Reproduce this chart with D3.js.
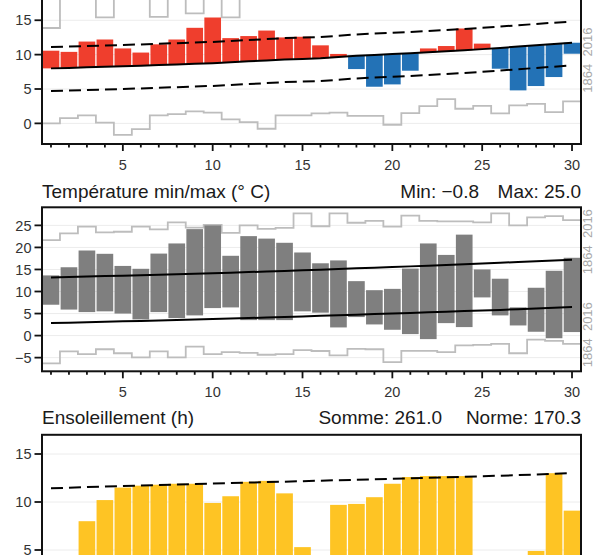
<!DOCTYPE html>
<html><head><meta charset="utf-8">
<script src="https://cdn.jsdelivr.net/npm/d3@7/dist/d3.min.js"></script>
<style>
body{margin:0;background:#fff}
svg{display:block}
text{font-family:"Liberation Sans",Arial,Helvetica,sans-serif}
</style></head>
<body><svg id="c" width="595" height="555"></svg>
<script>
// ---------- DATA ----------
const days = [1,2,3,4,5,6,7,8,9,10,11,12,13,14,15,16,17,18,19,20,21,22,23,24,25,26,27,28,29,30];
const dayTicks = [5,10,15,20,25,30];

// Panel 1: mean temperature (°C)
const tMean = [10.57,10.4,11.9,12.2,10.9,10.3,11.5,12.2,13.9,15.4,12.4,12.7,13.5,12.5,12.6,11.35,10.1,7.9,5.33,5.67,7.66,10.9,11.25,13.8,11.6,7.95,4.8,5.43,6.74,10.13];
const tMeanNorm = [8.0,8.07,8.15,8.22,8.3,8.39,8.48,8.57,8.66,8.75,8.88,9.02,9.16,9.3,9.38,9.46,9.65,9.84,9.96,10.08,10.2,10.33,10.48,10.64,10.8,10.98,11.17,11.36,11.55,11.73];
const tMeanHigh = [11.1,11.17,11.25,11.32,11.4,11.49,11.58,11.67,11.76,11.85,11.98,12.12,12.26,12.4,12.48,12.56,12.75,12.94,13.06,13.18,13.3,13.43,13.58,13.74,13.9,14.08,14.27,14.46,14.65,14.8];
const tMeanLow = [4.7,4.77,4.85,4.92,5.0,5.09,5.18,5.27,5.36,5.45,5.58,5.72,5.86,6.0,6.08,6.16,6.35,6.54,6.66,6.78,6.9,7.03,7.18,7.34,7.5,7.68,7.87,8.06,8.25,8.43];
const tMeanRecMax = [13.87,18.6,19.2,15.43,18.8,18.4,15.5,18.9,16.0,19.5,15.43,18.5,18.7,19.0,20.3,19.1,20.0,18.9,19.4,18.6,19.8,19.2,19.0,19.5,19.3,20.1,18.8,19.6,19.9,19.4];
const tMeanRecMin = [0.0,0.77,1.16,0.1,-1.66,-0.83,1.16,1.35,1.75,1.55,0.58,0.19,-0.78,1.16,1.16,1.45,1.55,1.1,1.1,-0.2,1.5,2.52,3.54,2.13,2.56,1.46,2.62,2.85,1.64,3.2];
const p1Ticks = [0,5,10,15];

// Panel 2: min / max temperature (°C)
const tMax = [13.65,15.5,19.3,18.55,15.8,15.15,18.6,20.9,24.15,25.0,18.1,22.56,22.0,21.05,18.85,16.4,17.05,12.35,10.3,10.6,15.2,20.9,18.3,22.9,15.0,12.9,6.4,10.85,14.7,17.65];
const tMin = [7.0,5.9,5.33,5.5,5.0,3.67,5.33,3.97,4.58,6.24,6.39,3.51,3.51,3.51,5.5,5.2,1.85,4.2,2.53,1.32,0.34,-0.8,2.83,1.93,8.66,4.58,2.3,0.87,-0.6,0.8];
const tMaxNorm = [13.2,13.3,13.4,13.5,13.6,13.7,13.8,13.9,14.02,14.15,14.28,14.41,14.54,14.67,14.8,14.95,15.1,15.25,15.4,15.55,15.7,15.85,16.02,16.19,16.36,16.53,16.7,16.87,17.04,17.2];
const tMinNorm = [2.83,2.93,3.03,3.13,3.23,3.33,3.43,3.54,3.65,3.76,3.87,3.98,4.1,4.22,4.35,4.48,4.61,4.74,4.87,5.0,5.13,5.27,5.41,5.55,5.69,5.83,5.98,6.13,6.3,6.46];
const tMaxRec = [21.65,23.2,24.7,23.4,23.55,24.7,24.1,25.7,24.5,25.1,23.3,25.0,24.2,24.45,27.7,24.8,27.7,25.6,26.0,24.7,27.2,26.0,25.9,25.9,25.7,27.7,25.0,26.8,27.1,26.2];
const tMinRec = [-6.3,-3.6,-4.2,-3.1,-4.0,-4.95,-3.6,-4.95,-2.5,-4.2,-3.75,-3.9,-4.35,-4.2,-3.3,-3.5,-4.5,-3.0,-3.1,-6.0,-3.45,-3.45,-3.75,-2.2,-2.1,-1.9,-4.0,-0.9,-1.2,-1.9];
const p2Ticks = [-5,0,5,10,15,20,25];

// Panel 3: sunshine (h)
const sun = [0.0,1.8,8.0,10.2,11.5,11.7,11.8,11.9,11.9,9.9,10.6,12.1,12.2,10.9,5.3,0.9,9.7,9.8,10.5,11.9,12.6,12.7,12.7,12.7,0.0,0.3,0.4,4.9,13.0,9.1];
const sunNorm = [11.43,11.49,11.55,11.61,11.67,11.72,11.77,11.82,11.87,11.92,11.97,12.02,12.07,12.12,12.17,12.22,12.27,12.32,12.37,12.42,12.47,12.52,12.57,12.62,12.68,12.74,12.8,12.86,12.94,13.02];
const sunNormTotal = 170.3;
const p3Ticks = [0,5,10,15];

const recordLabel = "1864  2016";

// ---------- LAYOUT ----------
const svg = d3.select("#c");
const X0 = 42, X1 = 581;
const x = d3.scaleLinear().domain([0.5, 30.5]).range([X0, X1]);
const step = x(2) - x(1);
const barW = step - 1.3;

const y1 = d3.scaleLinear().domain([-3, 21]).range([144, -21]);
const y2 = d3.scaleLinear().domain([-8.1, 29.1]).range([371.3, 207.3]);
const y3 = d3.scaleLinear().domain([-0.5, 17]).range([602.8, 434.8]);

const RED = "#ef3e2d", BLUE = "#2372b6", GREY = "#7f7f7f", YEL = "#fec424", REC = "#bdbdbd";

function panel(id, y, ticks, xLabels) {
  const [yb, yt] = y.range();
  const clipId = "clip" + id;
  svg.append("clipPath").attr("id", clipId).append("rect")
    .attr("x", X0).attr("y", yt).attr("width", X1 - X0).attr("height", yb - yt);
  svg.append("g").selectAll("line").data(ticks).join("line")
    .attr("x1", X0).attr("x2", X1).attr("y1", d => y(d)).attr("y2", d => y(d))
    .attr("stroke", "#ececec").attr("stroke-width", 1);
  const g = svg.append("g").attr("clip-path", `url(#${clipId})`);
  const ya = svg.append("g");
  ya.selectAll("line").data(ticks).join("line")
    .attr("x1", 34.5).attr("x2", X0).attr("y1", d => y(d)).attr("y2", d => y(d))
    .attr("stroke", "#111").attr("stroke-width", 1.8);
  ya.selectAll("text").data(ticks).join("text")
    .attr("x", 31.5).attr("y", d => y(d)).attr("dy", "0.36em")
    .attr("text-anchor", "end").attr("font-size", 14.5).attr("fill", "#333")
    .text(d => d < 0 ? "\u2212" + Math.abs(d) : d);
  const xa = svg.append("g");
  xa.selectAll("line").data(days).join("line")
    .attr("x1", d => x(d)).attr("x2", d => x(d))
    .attr("y1", yb).attr("y2", d => yb + (dayTicks.includes(d) ? 7 : 3.5))
    .attr("stroke", "#111").attr("stroke-width", 1.8);
  if (xLabels) {
    xa.selectAll("text").data(dayTicks).join("text")
      .attr("x", d => x(d)).attr("y", yb + 26)
      .attr("text-anchor", "middle").attr("font-size", 14.5).attr("fill", "#333")
      .text(d => d);
  }
  svg.append("rect").attr("x", X0).attr("y", yt).attr("width", X1 - X0).attr("height", yb - yt)
    .attr("fill", "none").attr("stroke", "#111").attr("stroke-width", 2);
  return g;
}

function stepLine(g, y, vals) {
  const pts = days.map((d, i) => [x(d - 0.5), y(vals[i])]);
  pts.push([x(30.5), y(vals[29])]);
  g.append("path").attr("d", d3.line().curve(d3.curveStepAfter)(pts))
    .attr("fill", "none").attr("stroke", REC).attr("stroke-width", 1.8);
}
function normLine(g, y, vals, dashed) {
  g.append("path").attr("d", d3.line().x((v, i) => x(days[i])).y(v => y(v))(vals))
    .attr("fill", "none").attr("stroke", "#000").attr("stroke-width", 2)
    .attr("stroke-dasharray", dashed ? "12,6" : null);
}
function recLabel(y, v) {
  svg.append("text").attr("transform", `translate(592,${y(v)}) rotate(-90)`)
    .attr("text-anchor", "middle").attr("font-size", 13).attr("fill", "#a8a8a8")
    .style("white-space", "pre").text(recordLabel);
}

// ---------- PANEL 1 ----------
const g1 = panel(1, y1, p1Ticks, true);
stepLine(g1, y1, tMeanRecMax);
stepLine(g1, y1, tMeanRecMin);
g1.selectAll("rect.b").data(days).join("rect").attr("class", "b")
  .attr("x", d => x(d) - barW / 2).attr("width", barW)
  .attr("y", (d, i) => y1(Math.max(tMean[i], tMeanNorm[i])))
  .attr("height", (d, i) => Math.abs(y1(tMean[i]) - y1(tMeanNorm[i])))
  .attr("fill", (d, i) => tMean[i] >= tMeanNorm[i] ? RED : BLUE);
normLine(g1, y1, tMeanHigh, true);
normLine(g1, y1, tMeanLow, true);
normLine(g1, y1, tMeanNorm, false);
recLabel(y1, 9.2);

// ---------- PANEL 2 ----------
const g2 = panel(2, y2, p2Ticks, true);
stepLine(g2, y2, tMaxRec);
stepLine(g2, y2, tMinRec);
g2.selectAll("rect.b").data(days).join("rect").attr("class", "b")
  .attr("x", d => x(d) - barW / 2).attr("width", barW)
  .attr("y", (d, i) => y2(tMax[i]))
  .attr("height", (d, i) => y2(tMin[i]) - y2(tMax[i]))
  .attr("fill", GREY);
normLine(g2, y2, tMaxNorm, false);
normLine(g2, y2, tMinNorm, false);
recLabel(y2, 21.3);
recLabel(y2, 0.2);
svg.append("text").attr("x", 42).attr("y", 198).attr("font-size", 19).attr("fill", "#1a1a1a")
  .text("Température min/max (° C)");
svg.append("text").attr("x", 581).attr("y", 198).attr("font-size", 19).attr("fill", "#1a1a1a")
  .attr("text-anchor", "end").text("Max: " + d3.max(tMax).toFixed(1));
svg.append("text").attr("x", 479).attr("y", 198).attr("font-size", 19).attr("fill", "#1a1a1a")
  .attr("text-anchor", "end").text("Min: " + d3.min(tMin).toFixed(1).replace("-", "\u2212"));

// ---------- PANEL 3 ----------
const g3 = panel(3, y3, p3Ticks, false);
g3.selectAll("rect.b").data(days).join("rect").attr("class", "b")
  .attr("x", d => x(d) - barW / 2).attr("width", barW)
  .attr("y", (d, i) => y3(sun[i]))
  .attr("height", (d, i) => y3(0) - y3(sun[i]))
  .attr("fill", YEL);
normLine(g3, y3, sunNorm, true);
svg.append("text").attr("x", 42).attr("y", 424).attr("font-size", 19).attr("fill", "#1a1a1a")
  .text("Ensoleillement (h)");
svg.append("text").attr("x", 581).attr("y", 424).attr("font-size", 19).attr("fill", "#1a1a1a")
  .attr("text-anchor", "end").text("Norme: " + sunNormTotal.toFixed(1));
svg.append("text").attr("x", 442).attr("y", 424).attr("font-size", 19).attr("fill", "#1a1a1a")
  .attr("text-anchor", "end").text("Somme: " + d3.sum(sun).toFixed(1));
</script></body></html>
